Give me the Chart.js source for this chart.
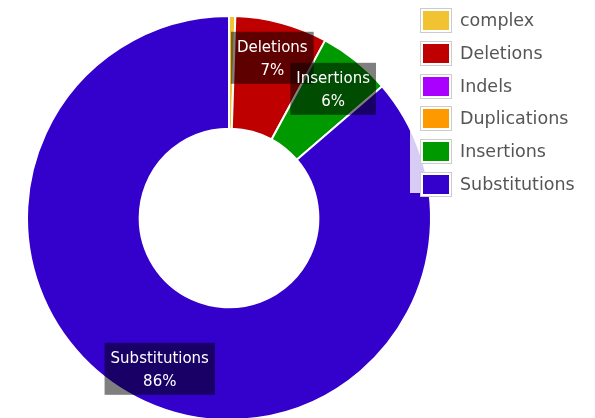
<!DOCTYPE html>
<html>
<head>
<meta charset="utf-8">
<script src="https://cdn.jsdelivr.net/npm/chart.js@4.4.0/dist/chart.umd.min.js"></script>
<style>
  html, body { margin: 0; padding: 0; background: #fff; overflow: hidden; }
  #wrap { position: relative; width: 595px; height: 418px; overflow: hidden; }
  #chartBox { position: absolute; left: 0; top: 0; width: 458px; height: 436px; }
  #legend {
    position: absolute; left: 410px; top: 0; width: 180px; height: 193px;
    background: rgba(255, 255, 255, 0.8);
    font-family: "DejaVu Sans", Verdana, sans-serif; font-size: 17.5px; color: #555;
  }
  #legend .item { position: absolute; left: 10px; height: 25px; }
  #legend .sw {
    position: absolute; left: 0; top: 0; width: 26px; height: 19px;
    border: 1px solid #ccc; padding: 2px; background: #fff;
  }
  #legend .sw span { display: block; width: 26px; height: 19px; }
  #legend .txt { position: absolute; left: 40px; top: 0px; line-height: 25px; white-space: nowrap; }
</style>
</head>
<body>
<div id="wrap">
  <div id="chartBox"><canvas id="grafico"></canvas></div>
  <div id="legend"></div>
</div>
<script>
/* ==========================
   Dados
   ========================== */
const categorias = ["complex", "Deletions", "Indels", "Duplications", "Insertions", "Substitutions"];
const valores = [5, 74, 0, 0, 58, 863];
const cores = ["#F1C232", "#BF0000", "#AA00FF", "#FF9900", "#009900", "#3300CC"];

const total = valores.reduce((a, b) => a + b, 0);

/* --------------------------
   Rótulos tipo tooltip em cada fatia
   -------------------------- */
const rotulosPlugin = {
  id: "rotulos",
  afterDatasetsDraw(chart) {
    const ctx = chart.ctx;
    const meta = chart.getDatasetMeta(0);
    ctx.save();
    ctx.font = "15px 'DejaVu Sans', Verdana, sans-serif";
    ctx.textAlign = "center";
    ctx.textBaseline = "middle";
    meta.data.forEach((arc, i) => {
      const v = valores[i];
      if (v / total < 0.02) return; // fatias pequenas sem rótulo
      const p = arc.getProps(["x", "y", "startAngle", "endAngle", "innerRadius", "outerRadius"], true);
      const meio = (p.startAngle + p.endAngle) / 2;
      const r = p.innerRadius + (p.outerRadius - p.innerRadius) * 0.68;
      const cx = p.x + Math.cos(meio) * r;
      const cy = p.y + Math.sin(meio) * r;
      const l1 = categorias[i];
      const l2 = Math.round((v / total) * 100) + "%";
      const w = Math.max(ctx.measureText(l1).width, ctx.measureText(l2).width) + 12;
      const h = 52;
      ctx.fillStyle = "rgba(0,0,0,0.5)";
      ctx.fillRect(cx - w / 2, cy - h / 2, w, h);
      ctx.fillStyle = "#fff";
      ctx.fillText(l1, cx, cy - h / 2 + 16);
      ctx.fillText(l2, cx, cy - h / 2 + 39);
    });
    ctx.restore();
  },
};

const grafico = new Chart(document.getElementById("grafico").getContext("2d"), {
  type: "doughnut",
  data: {
    labels: categorias,
    datasets: [
      {
        data: valores,
        backgroundColor: cores,
        borderColor: "#fff",
        borderWidth: 2,
      },
    ],
  },
  options: {
    responsive: true,
    maintainAspectRatio: false,
    animation: false,
    radius: 202,
    cutout: 96,
    plugins: { legend: { display: false }, tooltip: { enabled: false } },
  },
  plugins: [rotulosPlugin],
});

/* ==========================
   Legenda em HTML
   ========================== */
const legenda = document.getElementById("legend");
categorias.forEach((nome, i) => {
  const item = document.createElement("div");
  item.className = "item";
  item.style.top = 8 + i * 32.8 + "px";
  item.innerHTML = `<div class="sw"><span style="background:${cores[i]}"></span></div><div class="txt">${nome}</div>`;
  legenda.appendChild(item);
});
</script>
</body>
</html>
